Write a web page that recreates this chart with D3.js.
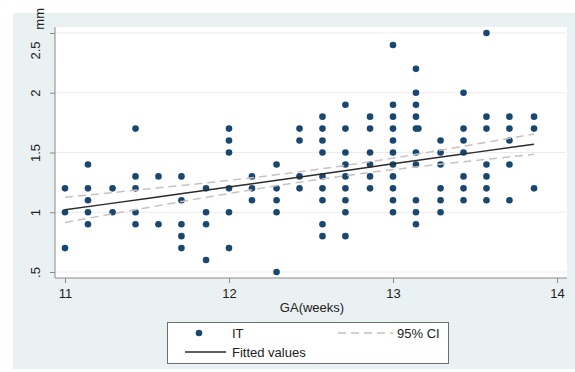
<!DOCTYPE html>
<html>
<head>
<meta charset="utf-8">
<script src="https://cdn.jsdelivr.net/npm/d3@7"></script>
<style>
  body { margin: 0; background: #fff; }
  text { font-family: "Liberation Sans", Arial, sans-serif; fill: #222; }
</style>
</head>
<body>
<div id="chart"></div>
<script>
// gestational age columns (weeks) and IT values (mm) read per column
const gaWeeks = [11, 11.14, 11.29, 11.43, 11.57, 11.71, 11.86, 12, 12.14, 12.29, 12.43, 12.57,
  12.71, 12.86, 13, 13.14, 13.155, 13.29, 13.43, 13.57, 13.71, 13.86];
const itValues = [
  [1.2, 1.0, 0.7],
  [1.4, 1.2, 1.1, 1.0, 0.9],
  [1.2, 1.0],
  [1.7, 1.3, 1.2, 1.0, 0.9],
  [1.3, 0.9],
  [1.3, 1.1, 0.9, 0.8, 0.7],
  [1.2, 1.0, 0.9, 0.6],
  [1.7, 1.6, 1.5, 1.2, 1.0, 0.7],
  [1.3, 1.2, 1.1],
  [1.4, 1.2, 1.1, 1.0, 0.5],
  [1.7, 1.6, 1.3, 1.2],
  [1.8, 1.7, 1.6, 1.5, 1.3, 1.2, 1.1, 0.9, 0.8],
  [1.9, 1.7, 1.5, 1.4, 1.3, 1.2, 1.1, 1.0, 0.8],
  [1.8, 1.7, 1.5, 1.4, 1.3, 1.2],
  [2.4, 1.9, 1.8, 1.7, 1.6, 1.5, 1.4, 1.3, 1.2, 1.1, 1.0],
  [2.2, 2.0, 1.9, 1.8, 1.7, 1.5, 1.4, 1.1, 1.0, 0.9],
  [1.7],
  [1.6, 1.5, 1.4, 1.2, 1.1, 1.0],
  [2.0, 1.7, 1.6, 1.5, 1.3, 1.2, 1.1],
  [2.5, 1.8, 1.7, 1.4, 1.3, 1.2, 1.1],
  [1.8, 1.7, 1.6, 1.4, 1.1],
  [1.8, 1.7, 1.2]
];

// fitted line and 95% CI
const fitGa = [11, 11.5, 12, 12.5, 13, 13.5, 13.86];
const fitted = [1.02, 1.116, 1.212, 1.308, 1.405, 1.501, 1.57];
const ciUpper = [1.125, 1.194, 1.267, 1.351, 1.453, 1.569, 1.655];
const ciLower = [0.915, 1.038, 1.157, 1.265, 1.357, 1.433, 1.485];

const xTicks = [11, 12, 13, 14];
const yTicks = [0.5, 1, 1.5, 2, 2.5];

const width = 575, height = 372;
const navy = '#1a476f';

const svg = d3.select('#chart').append('svg')
  .attr('width', width)
  .attr('height', height);

// graph region background
svg.append('rect')
  .attr('x', 13).attr('y', 13)
  .attr('width', width - 13).attr('height', 356)
  .attr('fill', '#eaf1f3');

const x = d3.scaleLinear().domain([11, 14]).range([65, 557]);
const y = d3.scaleLinear().domain([0.5, 2.5]).range([272, 33]);

// plot region
svg.append('rect')
  .attr('x', 55).attr('y', 27)
  .attr('width', 512).attr('height', 251)
  .attr('fill', '#fff');

// gridlines
svg.append('g')
  .selectAll('line')
  .data(yTicks)
  .join('line')
    .attr('x1', 56).attr('x2', 566)
    .attr('y1', d => y(d)).attr('y2', d => y(d))
    .attr('stroke', '#ececec')
    .attr('stroke-width', 1);

const fmt = d => d === 0.5 ? '.5' : String(d);

// y axis
const yAxis = svg.append('g')
  .attr('transform', 'translate(55,0)')
  .call(d3.axisLeft(y).tickValues(yTicks).tickFormat(fmt).tickSize(5).tickPadding(5));
yAxis.select('.domain').attr('d', 'M0,27V278').attr('stroke', '#8a8a8a');
yAxis.selectAll('.tick line').attr('stroke', '#8a8a8a');
yAxis.selectAll('.tick text')
  .attr('font-size', 13)
  .attr('fill', '#333')
  .attr('text-anchor', 'middle')
  .attr('x', 0).attr('dy', 0)
  .attr('transform', d => `translate(-15,${d === 2.5 ? 17 : 0}) rotate(-90)`);

// x axis
const xAxis = svg.append('g')
  .attr('transform', 'translate(0,278)')
  .call(d3.axisBottom(x).tickValues(xTicks).tickFormat(d3.format('d')).tickSize(5).tickPadding(6));
xAxis.select('.domain').attr('d', 'M55,0H567').attr('stroke', '#8a8a8a');
xAxis.selectAll('.tick line').attr('stroke', '#8a8a8a');
xAxis.selectAll('.tick text').attr('font-size', 13).attr('fill', '#333');

// axis titles
svg.append('text')
  .attr('transform', 'translate(44,8) rotate(-90)')
  .attr('text-anchor', 'end')
  .attr('font-size', 13)
  .text('mm');

svg.append('text')
  .attr('x', 312).attr('y', 312)
  .attr('text-anchor', 'middle')
  .attr('font-size', 13)
  .text('GA(weeks)');

// scatter points
const points = gaWeeks.flatMap((g, i) => itValues[i].map(v => ({ ga: g, it: v })));
svg.append('g')
  .selectAll('circle')
  .data(points)
  .join('circle')
    .attr('cx', d => x(d.ga))
    .attr('cy', d => y(d.it))
    .attr('r', 3.3)
    .attr('fill', navy);

const lineOf = vals => d3.line()
  .x((d, i) => x(fitGa[i]))
  .y(d => y(d))
  .curve(d3.curveMonotoneX)(vals);

// CI bands
[ciUpper, ciLower].forEach(vals => {
  svg.append('path')
    .attr('d', lineOf(vals))
    .attr('fill', 'none')
    .attr('stroke', '#c9c0bf')
    .attr('stroke-width', 1.5)
    .attr('stroke-dasharray', '8,5');
});

// fitted line
svg.append('path')
  .attr('d', lineOf(fitted))
  .attr('fill', 'none')
  .attr('stroke', '#2b2b2b')
  .attr('stroke-width', 1.5);

// legend
const legend = svg.append('g');
legend.append('rect')
  .attr('x', 167.5).attr('y', 322.5)
  .attr('width', 281).attr('height', 41)
  .attr('fill', '#fff')
  .attr('stroke', '#6e6e6e');
legend.append('circle')
  .attr('cx', 199).attr('cy', 333)
  .attr('r', 3.3)
  .attr('fill', navy);
legend.append('text')
  .attr('x', 232).attr('y', 338)
  .attr('font-size', 13)
  .text('IT');
legend.append('line')
  .attr('x1', 338).attr('x2', 393)
  .attr('y1', 333).attr('y2', 333)
  .attr('stroke', '#c9c0bf')
  .attr('stroke-width', 1.5)
  .attr('stroke-dasharray', '8,5');
legend.append('text')
  .attr('x', 397).attr('y', 338)
  .attr('font-size', 13)
  .text('95% CI');
legend.append('line')
  .attr('x1', 185).attr('x2', 226)
  .attr('y1', 352).attr('y2', 352)
  .attr('stroke', '#2b2b2b')
  .attr('stroke-width', 1.5);
legend.append('text')
  .attr('x', 232).attr('y', 357)
  .attr('font-size', 13)
  .text('Fitted values');
</script>
</body>
</html>
